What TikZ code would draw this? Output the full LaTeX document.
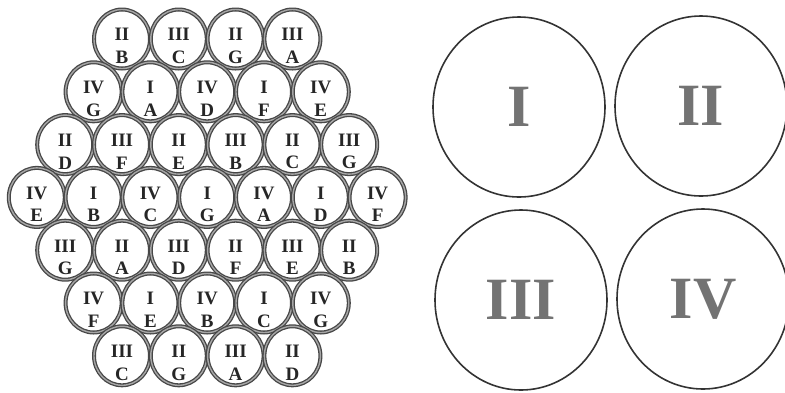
\documentclass[tikz,border=0pt]{standalone}
\usepackage{fontspec}
\setmainfont{Liberation Serif}
\usetikzlibrary{shapes.geometric}

% one row of the hexagonal bundle: #1 row, #2 first x, #3 numeral/letter list
\newcommand{\cellrow}[3]{%
  \foreach \rom/\ltr [count=\k from 0] in {#3} {
    \node[cell] (c#1-\k) at ({#2+\k*56.8}, {39+#1*52.8}) {};
    \node[lbl] (t#1-\k) at ([yshift=-7pt]c#1-\k.center) {\rom\\\ltr};
  }}

\begin{document}
\begin{tikzpicture}[x=1pt, y=-1pt,
    cell/.style={ellipse, draw=black!72, double=black!35, line width=1.3pt,
      double distance=1.4pt, minimum width=56pt, minimum height=59pt, inner sep=0pt},
    lbl/.style={align=center, inner sep=0pt, font=\fontsize{19}{22.5}\selectfont\bfseries,
      text=black!85},
    big/.style={ellipse, draw=black!80, line width=1.6pt, minimum width=172pt,
      minimum height=180pt, inner sep=0pt, font=\fontsize{60}{60}\selectfont\bfseries,
      text=black!55}]
    \useasboundingbox (0,0) rectangle (785,392);

    % Le faisceau hexagonal
    \cellrow{0}{122}{II/B,III/C,II/G,III/A}
    \cellrow{1}{93.6}{IV/G,I/A,IV/D,I/F,IV/E}
    \cellrow{2}{65.2}{II/D,III/F,II/E,III/B,II/C,III/G}
    \cellrow{3}{36.8}{IV/E,I/B,IV/C,I/G,IV/A,I/D,IV/F}
    \cellrow{4}{65.2}{III/G,II/A,III/D,II/F,III/E,II/B}
    \cellrow{5}{93.6}{IV/F,I/E,IV/B,I/C,IV/G}
    \cellrow{6}{122}{III/C,II/G,III/A,II/D}

    % Les quatre groupes
    \node[big] (g1) at (519,107) {I};
    \node[big] (g2) at (701,106) {II};
    \node[big] (g3) at (521,300) {III};
    \node[big] (g4) at (703,299) {IV};
\end{tikzpicture}
\end{document}
